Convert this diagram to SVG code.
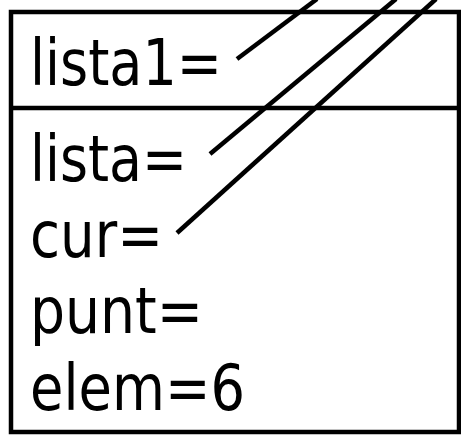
<svg xmlns="http://www.w3.org/2000/svg" width="461" height="440" viewBox="0 0 461 440">
<style>
.box{fill:#fff;stroke:#000;stroke-width:4.5}
.t{font-family:"DejaVu Sans","Verdana",sans-serif;font-size:64px;fill:#000}
.c{stroke:#000;stroke-width:4.5;fill:none;stroke-linecap:butt}
</style>
<rect width="461" height="440" fill="#fff"/>
<g id="frame">
<rect class="box" x="11" y="12" width="448" height="420"/>
<line x1="11" y1="108" x2="459" y2="108" stroke="#000" stroke-width="4.5"/>
</g>
<g id="header">
<text class="t" x="30" y="85" textLength="192" lengthAdjust="spacingAndGlyphs">lista1=</text>
</g>
<g id="fields">
<text class="t" x="30" y="181" textLength="157" lengthAdjust="spacingAndGlyphs">lista=</text>
<text class="t" x="30" y="257" textLength="133" lengthAdjust="spacingAndGlyphs">cur=</text>
<text class="t" x="30" y="333" textLength="173" lengthAdjust="spacingAndGlyphs">punt=</text>
<text class="t" x="30" y="410" textLength="215" lengthAdjust="spacingAndGlyphs">elem=6</text>
</g>
<g id="connectors">
<line class="c" x1="237" y1="59" x2="317" y2="-1"/>
<line class="c" x1="210" y1="154" x2="396" y2="-1"/>
<line class="c" x1="177" y1="233" x2="436" y2="-1"/>
</g>
</svg>
